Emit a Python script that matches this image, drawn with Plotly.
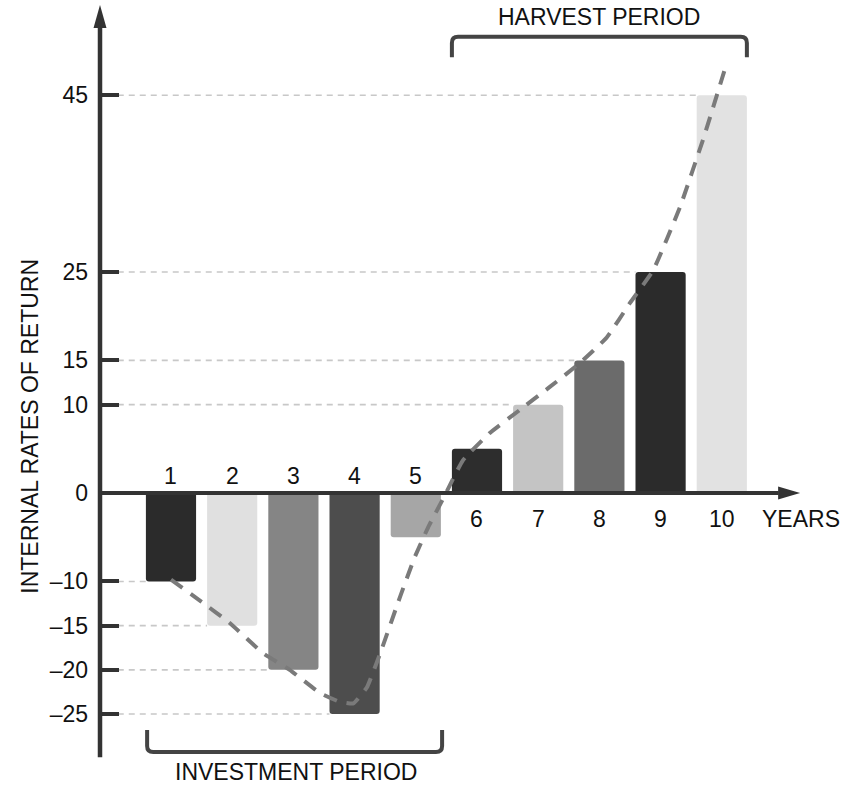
import plotly.graph_objects as go

# IRR by year of fund life
years = [1, 2, 3, 4, 5, 6, 7, 8, 9, 10]
irr = [-10, -15, -20, -25, -5, 5, 10, 15, 25, 45]
bar_colors = ["#2b2b2b", "#e0e0e0", "#858585", "#4d4d4d", "#a6a6a6",
              "#2d2d2d", "#c4c4c4", "#6b6b6b", "#2b2b2b", "#e2e2e2"]

# labelled rates on the vertical axis
tick_vals = [45, 25, 15, 10, 0, -10, -15, -20, -25]
tick_text = ["45", "25", "15", "10", "0", "\u201310", "\u201315", "\u201320", "\u201325"]

# J-curve trend traced through the bars
curve_x = [1.0, 1.5, 1.96, 2.5, 2.94, 3.43, 3.75, 3.98, 4.2, 4.42, 4.74,
           4.98, 5.2, 5.45, 5.77, 6.21, 6.70, 7.19, 7.68, 8.12, 8.50, 8.88,
           9.32, 9.69, 10.08]
curve_y = [-9.8, -12.3, -14.7, -18.1, -20.0, -22.6, -23.6, -23.8, -22.0, -18.1,
           -11.8, -7.3, -3.9, -0.6, 3.7, 6.8, 9.4, 12.0, 14.7, 17.6, 21.5, 25.2,
           32.4, 39.9, 48.6]

FONT = "Liberation Sans, Arial, Helvetica, sans-serif"
AXIS = "#333333"
BAR_W = 0.82
FS = 23

fig = go.Figure()

# dashed guides from the axis to each labelled bar
for v in tick_vals:
    if v == 0 or v not in irr:
        continue
    i = irr.index(v)
    fig.add_shape(type="line", x0=0.13, x1=years[i] - BAR_W / 2, y0=v, y1=v,
                  line=dict(color="#c8c8c8", width=1.6, dash="6px,5px"),
                  layer="below")

fig.add_trace(go.Bar(
    x=years, y=irr, width=BAR_W,
    marker=dict(color=bar_colors, line=dict(width=0), cornerradius=3),
    hoverinfo="x+y", showlegend=False,
))

fig.add_trace(go.Scatter(
    x=curve_x, y=curve_y, mode="lines",
    line=dict(color="#7a7a7a", width=4, dash="14px,10px", shape="spline", smoothing=0.35),
    hoverinfo="skip", showlegend=False,
))

# axes drawn as arrows
y_axis_x = -0.16
fig.add_shape(type="line", x0=y_axis_x, x1=y_axis_x, y0=-29.9, y1=52.8,
              line=dict(color=AXIS, width=4.5))
fig.add_shape(type="path", xsizemode="pixel", ysizemode="pixel",
              xanchor=y_axis_x, yanchor=55.2,
              path="M0,0 L-6.5,-23 L6.5,-23 Z",
              fillcolor=AXIS, line=dict(width=0))
fig.add_shape(type="line", x0=y_axis_x, x1=10.93, y0=0, y1=0,
              line=dict(color=AXIS, width=4))
fig.add_shape(type="path", xsizemode="pixel", ysizemode="pixel",
              xanchor=11.28, yanchor=0,
              path="M0,0 L-22,6.5 L-22,-6.5 Z",
              fillcolor=AXIS, line=dict(width=0))


def bracket(x0, x1, y_end, y_bar, up):
    rx, ry = 0.1, 0.68
    s = 1 if up else -1
    return (f"M{x0},{y_end} L{x0},{y_bar - s * ry} Q{x0},{y_bar} {x0 + rx},{y_bar} "
            f"L{x1 - rx},{y_bar} Q{x1},{y_bar} {x1},{y_bar - s * ry} L{x1},{y_end}")


fig.add_shape(type="path", path=bracket(5.59, 10.41, 49.3, 51.6, True),
              line=dict(color="#444444", width=4))
fig.add_shape(type="path", path=bracket(0.61, 5.43, -26.8, -29.3, False),
              line=dict(color="#444444", width=4))

annotations = []
for yr in years:
    above = yr <= 5
    annotations.append(dict(x=yr, y=1.9 if above else -2.9, text=str(yr),
                            showarrow=False, font=dict(size=FS, color="#111")))
annotations += [
    dict(x=10.62, y=-2.9, text="YEARS", xanchor="left", showarrow=False,
         font=dict(size=FS, color="#111")),
    dict(x=8.0, y=53.8, text="HARVEST PERIOD", showarrow=False,
         font=dict(size=FS, color="#111")),
    dict(x=3.05, y=-31.6, text="INVESTMENT PERIOD", showarrow=False,
         font=dict(size=FS, color="#111")),
    dict(xref="paper", x=15 / 844, y=7.5, text="INTERNAL RATES OF RETURN",
         textangle=-90, showarrow=False, font=dict(size=FS, color="#111")),
]

fig.update_layout(
    width=844, height=786,
    margin=dict(l=0, r=0, t=0, b=0),
    paper_bgcolor="white", plot_bgcolor="white",
    font=dict(family=FONT, size=FS, color="#111"),
    annotations=annotations,
    showlegend=False,
    xaxis=dict(range=[-1.794, 11.997], visible=False, fixedrange=True),
    yaxis=dict(range=[-33.14, 55.77], anchor="free", position=100 / 844,
               showgrid=False, zeroline=False, showline=False,
               tickmode="array", tickvals=tick_vals, ticktext=tick_text,
               ticks="inside", ticklen=18, tickwidth=4, tickcolor=AXIS,
               ticklabelstandoff=12,
               tickfont=dict(size=FS, color="#111", family=FONT)),
)

fig.write_html("out.html")
